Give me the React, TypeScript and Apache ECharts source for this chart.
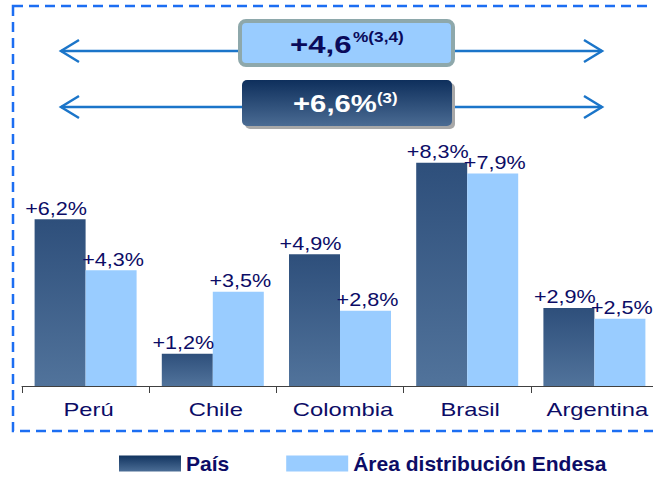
import React, { useEffect, useRef } from "react";
import * as echarts from "echarts";

const categories = ["Perú", "Chile", "Colombia", "Brasil", "Argentina"];
const paisValues = [6.2, 1.2, 4.9, 8.3, 2.9];
const areaValues = [4.3, 3.5, 2.8, 7.9, 2.5];
const seriesNames = ["País", "Área distribución Endesa"];
const headerArea = { main: "+4,6", sup: "%(3,4)" };
const headerPais = { main: "+6,6%", sup: "(3)" };

const FONT = "'Liberation Sans', Arial, sans-serif";
const NAVY = "#0c0c66";
const BAR_W = 51;

const fmt = (v: number) => "+" + v.toFixed(1).replace(".", ",") + "%";

export default function App() {
  const ref = useRef<HTMLDivElement>(null);
  useEffect(() => {
    if (!ref.current) return;
    const chart = echarts.init(ref.current, null, { renderer: "svg" });
    const darkGrad = new echarts.graphic.LinearGradient(0, 0, 0, 1, [
      { offset: 0, color: "#2e4f7b" },
      { offset: 1, color: "#51739b" },
    ]);
    const legendGrad = new echarts.graphic.LinearGradient(0, 0, 0, 1, [
      { offset: 0, color: "#12345f" },
      { offset: 1, color: "#4b6d96" },
    ]);
    const boxGrad = new echarts.graphic.LinearGradient(0, 0, 0, 1, [
      { offset: 0, color: "#0e2f5c" },
      { offset: 1, color: "#4a6b93" },
    ]);
    const arrowColor = "#1b75c9";

    const labelSeries = (vals: number[], dx: number, name: string) => ({
      type: "custom",
      name,
      data: vals.map((v, i) => [i, v]),
      clip: false,
      silent: true,
      z: 10,
      renderItem: (_p: any, api: any) => {
        const pt = api.coord([api.value(0), api.value(1)]);
        return {
          type: "text",
          x: pt[0] + dx,
          y: pt[1] - 11,
          scaleX: 1.2,
          style: {
            text: fmt(api.value(1)),
            fill: NAVY,
            fontSize: 18,
            fontFamily: FONT,
            align: "center",
            verticalAlign: "middle",
          },
        };
      },
    });

    const arrow = (y: number) => [
      { type: "line", shape: { x1: 61, y1: y, x2: 602, y2: y }, style: { stroke: arrowColor, lineWidth: 2.5 } },
      { type: "polyline", shape: { points: [[79, y - 11], [61, y], [79, y + 11]] }, style: { stroke: arrowColor, lineWidth: 2.5, fill: null } },
      { type: "polyline", shape: { points: [[584, y - 11], [602, y], [584, y + 11]] }, style: { stroke: arrowColor, lineWidth: 2.5, fill: null } },
    ];

    chart.setOption({
      animation: false,
      grid: {
        left: 22,
        top: 117,
        width: 636,
        height: 269,
        containLabel: false,
        outerBoundsMode: "none",
      },
      xAxis: {
        type: "category",
        data: categories,
        axisLine: { lineStyle: { color: "#404040", width: 1 } },
        axisTick: { show: true, length: 7, lineStyle: { color: "#404040" } },
        axisLabel: { show: false },
      },
      yAxis: { type: "value", min: 0, max: 10, show: false, splitLine: { show: false } },
      legend: {
        left: 119,
        top: 453,
        padding: 0,
        itemWidth: 62,
        itemHeight: 16,
        itemGap: 57,
        icon: "rect",
        data: [
          { name: seriesNames[0], itemStyle: { color: legendGrad } },
          { name: seriesNames[1] },
        ],
        textStyle: { fontSize: 21, lineHeight: 20, fontWeight: "bold", color: NAVY, fontFamily: FONT },
      },
      series: [
        {
          type: "bar",
          name: seriesNames[0],
          data: paisValues,
          barWidth: BAR_W,
          barGap: "0%",
          itemStyle: { color: darkGrad },
        },
        {
          type: "bar",
          name: seriesNames[1],
          data: areaValues,
          barWidth: BAR_W,
          barGap: "0%",
          itemStyle: { color: "#99ccff" },
        },
        labelSeries(paisValues, -BAR_W / 2 - 4, "paisLabels"),
        labelSeries(areaValues, BAR_W / 2 + 2, "areaLabels"),
        {
          type: "custom",
          name: "catLabels",
          data: categories.map((_c, i) => [i, 0]),
          clip: false,
          silent: true,
          renderItem: (_p: any, api: any) => {
            const pt = api.coord([api.value(0), 0]);
            return {
              type: "text",
              x: pt[0] + 3,
              y: pt[1] + 24,
              scaleX: 1.25,
              style: {
                text: categories[api.value(0)],
                fill: NAVY,
                fontSize: 19,
                fontFamily: FONT,
                align: "center",
                verticalAlign: "middle",
              },
            };
          },
        },
      ],
      graphic: [
        {
          type: "rect",
          shape: { x: 13, y: 6, width: 700, height: 425 },
          style: { fill: null, stroke: "#1c6ef2", lineWidth: 2.5, lineDash: [10, 6] },
        },
        ...arrow(51),
        ...arrow(107),
        {
          type: "rect",
          shape: { x: 240, y: 21, width: 213, height: 44, r: 6 },
          style: { fill: "#99ccff", stroke: "#8ea8ab", lineWidth: 4 },
        },
        {
          type: "text",
          x: 290,
          y: 45,
          scaleX: 1.3,
          style: { text: headerArea.main, fill: "#0a0a5a", fontSize: 24, fontWeight: "bold", fontFamily: FONT, align: "left", verticalAlign: "middle" },
        },
        {
          type: "text",
          x: 353,
          y: 36,
          scaleX: 1.15,
          style: { text: headerArea.sup, fill: "#0a0a5a", fontSize: 15, fontWeight: "bold", fontFamily: FONT, align: "left", verticalAlign: "middle" },
        },
        {
          type: "rect",
          shape: { x: 245, y: 83, width: 210, height: 46, r: 5 },
          style: { fill: "#a8a8a8" },
        },
        {
          type: "rect",
          shape: { x: 242, y: 80, width: 210, height: 46, r: 5 },
          style: { fill: boxGrad },
        },
        {
          type: "text",
          x: 293,
          y: 104,
          scaleX: 1.22,
          style: { text: headerPais.main, fill: "#ffffff", fontSize: 24, fontWeight: "bold", fontFamily: FONT, align: "left", verticalAlign: "middle" },
        },
        {
          type: "text",
          x: 377,
          y: 98,
          scaleX: 1.2,
          style: { text: headerPais.sup, fill: "#ffffff", fontSize: 14, fontWeight: "bold", fontFamily: FONT, align: "left", verticalAlign: "middle" },
        },
      ],
    });
    return () => chart.dispose();
  }, []);
  return (
    <div
      ref={ref}
      style={{ position: "fixed", left: 0, top: 0, width: 653, height: 477, background: "#ffffff" }}
    />
  );
}
